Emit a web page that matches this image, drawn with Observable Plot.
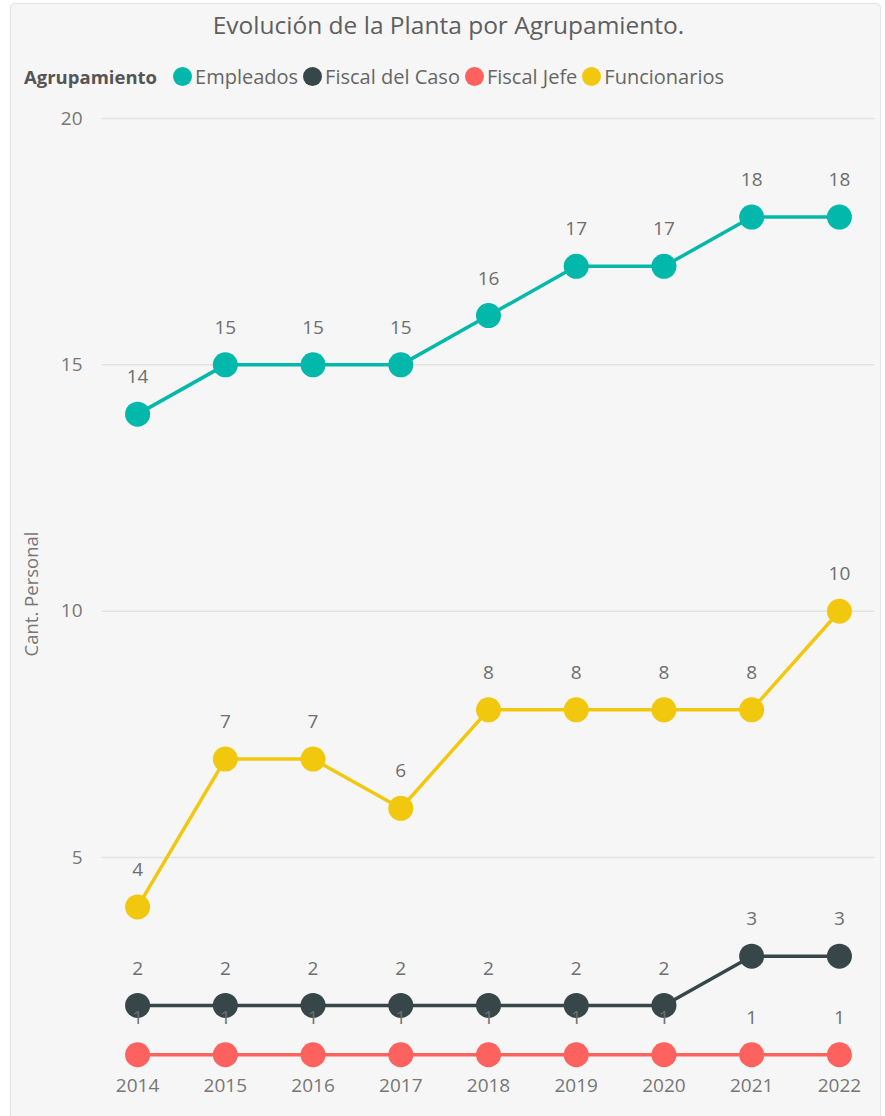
<!DOCTYPE html>
<html>
<head>
<meta charset="utf-8">
<script src="https://cdn.jsdelivr.net/npm/d3@7"></script>
<script src="https://cdn.jsdelivr.net/npm/@observablehq/plot@0.6"></script>
<style>
  html, body { margin: 0; padding: 0; background: #ffffff; width: 885px; height: 1116px; overflow: hidden; }
  #panel { position: absolute; left: 10px; top: 3px; width: 869px; height: 1140px; background: #f6f6f6;
           border: 1.5px solid #e4e4e4; border-radius: 5px; box-shadow: 0 0 2px rgba(0,0,0,0.06); }
  #title { position: absolute; left: 0; top: 7px; width: 897px; text-align: center;
           font-family: "Open Sans", sans-serif; font-size: 24.5px; color: #5f5f5f; line-height: 36px; }
  #legend { position: absolute; left: 24px; top: 62px; height: 28px; display: flex; align-items: center;
            font-family: "Open Sans", sans-serif; font-size: 20px; color: #666; white-space: nowrap; }
  #legend .head { font-weight: 700; color: #555; margin-right: 16px; font-size: 18.5px; }
  #legend .sw { width: 19px; height: 19px; border-radius: 50%; display: inline-block; margin-right: 3px; }
  #legend .it { display: flex; align-items: center; margin-right: 5px; }
  #chart { position: absolute; left: 0; top: 100px; }
</style>
</head>
<body>
<div id="panel"></div>
<div id="title"></div>
<div id="legend"></div>
<div id="chart"></div>
<script>
const titleText = "Evolución de la Planta por Agrupamiento.";
const legendTitle = "Agrupamiento";
const yLabel = "Cant. Personal";
const years = ["2014","2015","2016","2017","2018","2019","2020","2021","2022"];
const seriesNames = ["Empleados","Fiscal del Caso","Fiscal Jefe","Funcionarios"];
const seriesColors = ["#01B8AA","#374649","#FD625E","#F2C80F"];
const empleados = [14,15,15,15,16,17,17,18,18];
const fiscalDelCaso = [2,2,2,2,2,2,2,3,3];
const fiscalJefe = [1,1,1,1,1,1,1,1,1];
const funcionarios = [4,7,7,6,8,8,8,8,10];
const yTicks = [5,10,15,20];

const seriesValues = [empleados, fiscalDelCaso, fiscalJefe, funcionarios];
const data = [];
seriesNames.forEach((name, i) => {
  years.forEach((yr, j) => data.push({serie: name, year: yr, value: seriesValues[i][j]}));
});

document.getElementById("title").textContent = titleText;
const leg = document.getElementById("legend");
const head = document.createElement("span"); head.className = "head"; head.textContent = legendTitle; leg.appendChild(head);
seriesNames.forEach((n, i) => {
  const it = document.createElement("span"); it.className = "it";
  const sw = document.createElement("span"); sw.className = "sw"; sw.style.background = seriesColors[i];
  const tx = document.createElement("span"); tx.textContent = n;
  it.appendChild(sw); it.appendChild(tx); leg.appendChild(it);
});

const font = "'Open Sans', sans-serif";
const chart = Plot.plot({
  width: 885,
  height: 1016,
  marginLeft: 102,
  marginRight: 11,
  marginTop: 18,
  marginBottom: 47,
  style: {background: "transparent", fontFamily: font, fontSize: "19px", color: "#777"},
  x: {type: "point", domain: years, padding: 0.4, round: false, label: null},
  y: {domain: [0.7, 20], label: null},
  color: {domain: seriesNames, range: seriesColors},
  marks: [
    Plot.gridY(yTicks, {stroke: "#e3e3e3", strokeOpacity: 1, strokeWidth: 1.5}),
    Plot.axisY({ticks: yTicks, tickSize: 0, tickPadding: 20, fontSize: 19, fill: "#777", label: null}),
    Plot.axisX({tickSize: 0, tickPadding: 9, fontSize: 19, fill: "#777", label: null}),
    Plot.text([yLabel], {frameAnchor: "left", textAnchor: "middle", dx: -70, rotate: -90, text: d => d, fontSize: 18.5, fill: "#777"}),
    Plot.line(data, {x: "year", y: "value", z: "serie", stroke: "serie", strokeWidth: 3.5}),
    Plot.dot(data, {x: "year", y: "value", fill: "serie", r: 12.5}),
    Plot.text(data, {x: "year", y: "value", text: d => String(d.value), dy: -37, fontSize: 19, fontWeight: 500, fill: "#6e6e6e"})
  ]
});
document.getElementById("chart").appendChild(chart);
</script>
</body>
</html>
